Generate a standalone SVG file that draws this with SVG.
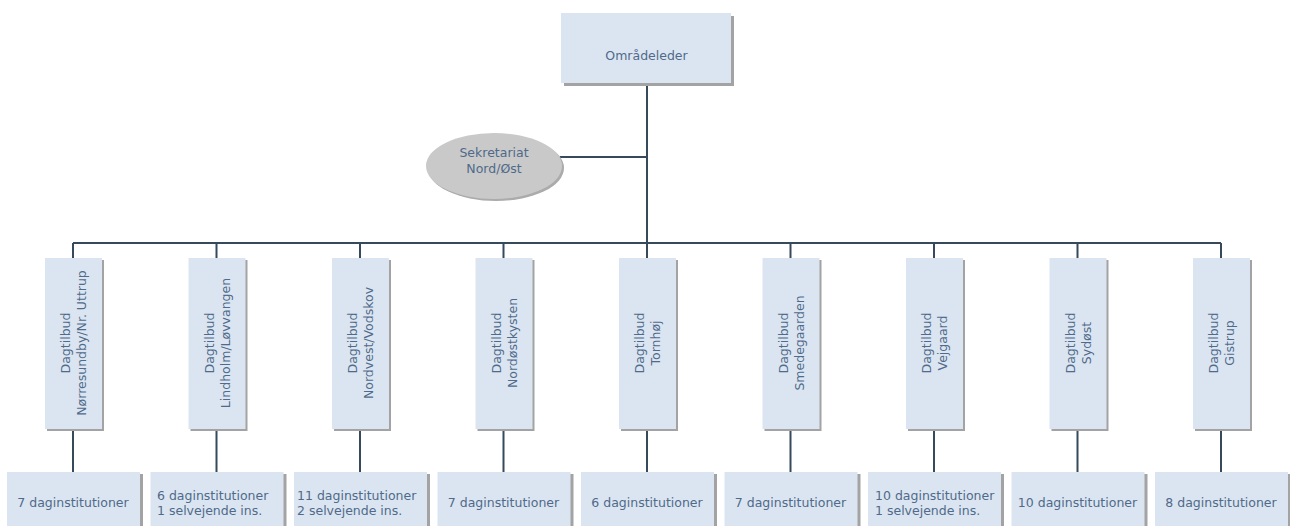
<svg xmlns="http://www.w3.org/2000/svg" width="1290" height="526" viewBox="0 0 1290 526">
<defs>
<style>
.box{fill:#dbe5f1;}
.sh{fill:#a3a3a3;}
.t{font-family:"DejaVu Sans",sans-serif;font-size:12.5px;fill:#4f6a8a;}
.c{stroke:#364a5c;stroke-width:2;fill:none;}
</style>
</defs>
<rect width="1290" height="526" fill="#ffffff"/>
<g id="connectors">
<path class="c" d="M647,83 V243 M73,243 H1221 M560,157 H647"/>
<path class="c" d="M73,243 V258 M216.5,243 V258 M360,243 V258 M503.5,243 V258 M647,243 V258 M790.5,243 V258 M934,243 V258 M1077.5,243 V258 M1221,243 V258"/>
<path class="c" d="M73,429 V472 M216.5,429 V472 M360,429 V472 M503.5,429 V472 M647,429 V472 M790.5,429 V472 M934,429 V472 M1077.5,429 V472 M1221,429 V472"/>
</g>
<g id="omraadeleder">
<rect class="sh" x="564" y="16" width="170" height="70"/>
<rect class="box" x="561" y="13" width="170" height="70"/>
<text class="t" x="646.5" y="59.5" text-anchor="middle">Områdeleder</text>
</g>
<g id="sekretariat">
<ellipse cx="496" cy="168" rx="68" ry="33" fill="#ababab"/>
<ellipse cx="494" cy="166" rx="68" ry="33" fill="#c9c9c9"/>
<text class="t" x="494" y="156.5" text-anchor="middle">Sekretariat</text>
<text class="t" x="494" y="172.5" text-anchor="middle">Nord/Øst</text>
</g>
<g id="d1">
<rect class="sh" x="47" y="260" width="57" height="171"/>
<rect class="box" x="45" y="258" width="57" height="171"/>
<g transform="translate(73,343) rotate(-90)"><text class="t" text-anchor="middle" y="-3">Dagtilbud</text><text class="t" text-anchor="middle" y="13">Nørresundby/Nr. Uttrup</text></g>
</g>
<g id="d2">
<rect class="sh" x="190.5" y="260" width="57" height="171"/>
<rect class="box" x="188.5" y="258" width="57" height="171"/>
<g transform="translate(216.5,343) rotate(-90)"><text class="t" text-anchor="middle" y="-3">Dagtilbud</text><text class="t" text-anchor="middle" y="13">Lindholm/Løvvangen</text></g>
</g>
<g id="d3">
<rect class="sh" x="334" y="260" width="57" height="171"/>
<rect class="box" x="332" y="258" width="57" height="171"/>
<g transform="translate(360,343) rotate(-90)"><text class="t" text-anchor="middle" y="-3">Dagtilbud</text><text class="t" text-anchor="middle" y="13">Nordvest/Vodskov</text></g>
</g>
<g id="d4">
<rect class="sh" x="477.5" y="260" width="57" height="171"/>
<rect class="box" x="475.5" y="258" width="57" height="171"/>
<g transform="translate(503.5,343) rotate(-90)"><text class="t" text-anchor="middle" y="-3">Dagtilbud</text><text class="t" text-anchor="middle" y="13">Nordøstkysten</text></g>
</g>
<g id="d5">
<rect class="sh" x="621" y="260" width="57" height="171"/>
<rect class="box" x="619" y="258" width="57" height="171"/>
<g transform="translate(647,343) rotate(-90)"><text class="t" text-anchor="middle" y="-3">Dagtilbud</text><text class="t" text-anchor="middle" y="13">Tornhøj</text></g>
</g>
<g id="d6">
<rect class="sh" x="764.5" y="260" width="57" height="171"/>
<rect class="box" x="762.5" y="258" width="57" height="171"/>
<g transform="translate(790.5,343) rotate(-90)"><text class="t" text-anchor="middle" y="-3">Dagtilbud</text><text class="t" text-anchor="middle" y="13">Smedegaarden</text></g>
</g>
<g id="d7">
<rect class="sh" x="908" y="260" width="57" height="171"/>
<rect class="box" x="906" y="258" width="57" height="171"/>
<g transform="translate(934,343) rotate(-90)"><text class="t" text-anchor="middle" y="-3">Dagtilbud</text><text class="t" text-anchor="middle" y="13">Vejgaard</text></g>
</g>
<g id="d8">
<rect class="sh" x="1051.5" y="260" width="57" height="171"/>
<rect class="box" x="1049.5" y="258" width="57" height="171"/>
<g transform="translate(1077.5,343) rotate(-90)"><text class="t" text-anchor="middle" y="-3">Dagtilbud</text><text class="t" text-anchor="middle" y="13">Sydøst</text></g>
</g>
<g id="d9">
<rect class="sh" x="1195" y="260" width="57" height="171"/>
<rect class="box" x="1193" y="258" width="57" height="171"/>
<g transform="translate(1221,343) rotate(-90)"><text class="t" text-anchor="middle" y="-3">Dagtilbud</text><text class="t" text-anchor="middle" y="13">Gistrup</text></g>
</g>
<g id="b1">
<rect class="sh" x="10" y="474" width="133" height="60"/>
<rect class="box" x="7" y="472" width="133" height="60"/>
<text class="t" x="73" y="506.5" text-anchor="middle">7 daginstitutioner</text>
</g>
<g id="b2">
<rect class="sh" x="153.5" y="474" width="133" height="60"/>
<rect class="box" x="150.5" y="472" width="133" height="60"/>
<text class="t" x="157" y="499.5">6 daginstitutioner</text>
<text class="t" x="157" y="514.5">1 selvejende ins.</text>
</g>
<g id="b3">
<rect class="sh" x="297" y="474" width="133" height="60"/>
<rect class="box" x="294" y="472" width="133" height="60"/>
<text class="t" x="297" y="499.5">11 daginstitutioner</text>
<text class="t" x="297" y="514.5">2 selvejende ins.</text>
</g>
<g id="b4">
<rect class="sh" x="440.5" y="474" width="133" height="60"/>
<rect class="box" x="437.5" y="472" width="133" height="60"/>
<text class="t" x="503.5" y="506.5" text-anchor="middle">7 daginstitutioner</text>
</g>
<g id="b5">
<rect class="sh" x="584" y="474" width="133" height="60"/>
<rect class="box" x="581" y="472" width="133" height="60"/>
<text class="t" x="647" y="506.5" text-anchor="middle">6 daginstitutioner</text>
</g>
<g id="b6">
<rect class="sh" x="727.5" y="474" width="133" height="60"/>
<rect class="box" x="724.5" y="472" width="133" height="60"/>
<text class="t" x="790.5" y="506.5" text-anchor="middle">7 daginstitutioner</text>
</g>
<g id="b7">
<rect class="sh" x="871" y="474" width="133" height="60"/>
<rect class="box" x="868" y="472" width="133" height="60"/>
<text class="t" x="875" y="499.5">10 daginstitutioner</text>
<text class="t" x="875" y="514.5">1 selvejende ins.</text>
</g>
<g id="b8">
<rect class="sh" x="1014.5" y="474" width="133" height="60"/>
<rect class="box" x="1011.5" y="472" width="133" height="60"/>
<text class="t" x="1077.5" y="506.5" text-anchor="middle">10 daginstitutioner</text>
</g>
<g id="b9">
<rect class="sh" x="1158" y="474" width="133" height="60"/>
<rect class="box" x="1155" y="472" width="133" height="60"/>
<text class="t" x="1221" y="506.5" text-anchor="middle">8 daginstitutioner</text>
</g>
</svg>
